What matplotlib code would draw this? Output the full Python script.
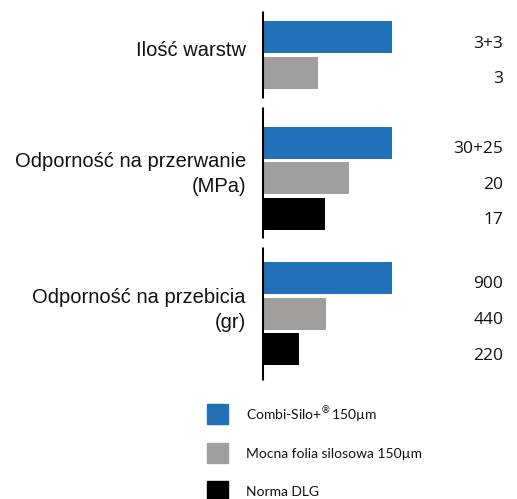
import matplotlib
matplotlib.use('Agg')
import matplotlib.pyplot as plt
from matplotlib.patches import Rectangle

# dane
grupy = ['Ilość warstw', 'Odporność na przerwanie\n(MPa)', 'Odporność na przebicia\n(gr)']
serie = ['Combi-Silo+$^{\\circledR}$150µm', 'Mocna folia silosowa 150µm', 'Norma DLG']
kolory = ['#2171b9', '#a09f9e', '#000000']
# dlugosci slupkow (wzgledne, Combi-Silo+ = 100)
dlugosci = [
    [100, 42.6],
    [100, 66.7, 48.0],
    [100, 48.8, 27.9],
]
etykiety = [
    ['3+3', '3'],
    ['30+25', '20', '17'],
    ['900', '440', '220'],
]

W, H = 517, 499
fig = plt.figure(figsize=(W / 100, H / 100), dpi=100)
# os zaczyna sie na linii pionowej
x0 = 262
ax = fig.add_axes([x0 / W, 0, 1 - x0 / W, 1])
ax.set_xlim(0, 100 * (W - x0) / 129)
ax.set_ylim(H, 0)
ax.axis('off')

start = [37, 142.5, 278]
krok = 35.7
linie = [(11, 98), (107, 238), (247, 380)]

for g, (nazwa, dl, et) in enumerate(zip(grupy, dlugosci, etykiety)):
    ys = [start[g] + i * krok for i in range(len(dl))]
    ax.barh(ys, dl, height=32, color=kolory[:len(dl)], left=0.8)
    ax.plot([0, 0], linie[g], color='black', lw=2.2, solid_capstyle='butt')
    for y, t in zip(ys, et):
        ax.text(187, y + 6.5, t, ha='right', va='center', fontsize=12.5,
                family='Open Sans', color='#111111')
    yc = (ys[0] + ys[-1]) / 2 - 4
    fig.text((x0 - 16) / W, 1 - yc / H, nazwa, ha='right', va='center',
             fontsize=14.5, family='Liberation Sans', color='#111111',
             linespacing=1.4)

# legenda
for i, (s, k) in enumerate(zip(serie, kolory)):
    yt = 404 + i * 38.5
    fig.patches.append(Rectangle((207 / W, 1 - (yt + 20) / H), 21 / W, 20 / H,
                                 transform=fig.transFigure, color=k))
    fig.text(246 / W, 1 - (yt + 11) / H, s, ha='left', va='center',
             fontsize=10, family='Lato', color='#111111')

fig.savefig('out.png', dpi=100)
